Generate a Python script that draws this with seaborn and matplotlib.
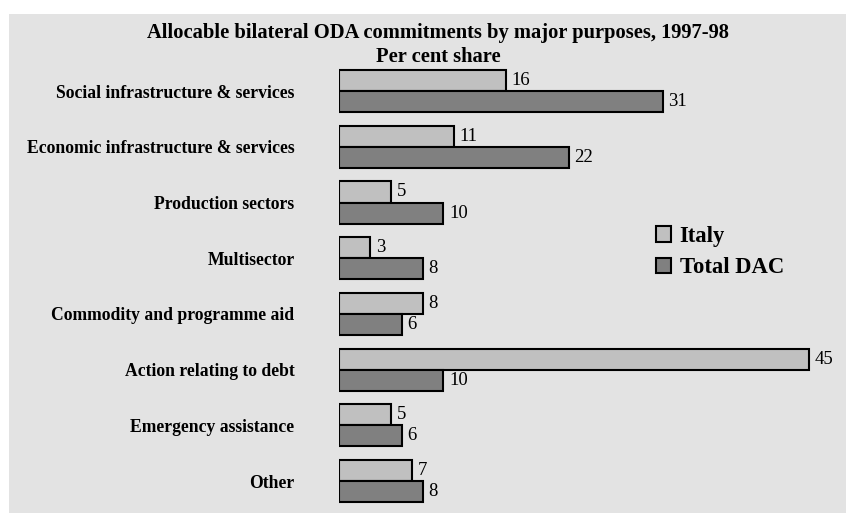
import matplotlib
matplotlib.use("Agg")
import matplotlib.pyplot as plt
import matplotlib.patches as mpatches
import seaborn as sns
import pandas as pd

categories = [
    "Social infrastructure & services",
    "Economic infrastructure & services",
    "Production sectors",
    "Multisector",
    "Commodity and programme aid",
    "Action relating to debt",
    "Emergency assistance",
    "Other",
]
italy = [16, 11, 5, 3, 8, 45, 5, 7]
total_dac = [31, 22, 10, 8, 6, 10, 6, 8]
series = ["Italy", "Total DAC"]
colors = ["#c0c0c0", "#808080"]

df = pd.DataFrame({
    "purpose": categories * 2,
    "share": italy + total_dac,
    "donor": [series[0]] * len(categories) + [series[1]] * len(categories),
})

sns.set_theme(style="white")
plt.rcParams["font.family"] = ["Liberation Serif", "DejaVu Serif"]
plt.rcParams["text.color"] = "black"
plt.rcParams["ytick.color"] = "black"

W, H = 846, 513
fig = plt.figure(figsize=(W / 100, H / 100), dpi=100)
fig.patch.set_facecolor("white")

# grey panel behind the chart
panel = mpatches.Rectangle((9 / W, 0), 1 - 9 / W, 1 - 14 / H,
                           transform=fig.transFigure, facecolor="#e3e3e3",
                           edgecolor="none", zorder=-5)
fig.patches.append(panel)

left_px, right_px = 339, 339 + 48 * 10.44
top_px, bot_px = 63.2, 509.0
ax = fig.add_axes([left_px / W, 1 - bot_px / H,
                   (right_px - left_px) / W, (bot_px - top_px) / H])
ax.set_facecolor("none")
ax.set_zorder(2)

sns.barplot(data=df, y="purpose", x="share", hue="donor", order=categories,
            hue_order=series, palette=colors, orient="h", width=0.755,
            edgecolor="black", linewidth=1.5, saturation=1, ax=ax,
            legend=False)

ax.set_xlim(0, 48)
ax.set_ylim(7.5, -0.5)
for c in ax.containers:
    ax.bar_label(c, padding=4, fontsize=13.5, color="black")

ax.set_xlabel("")
ax.set_ylabel("")
ax.set_xticks([])
ax.tick_params(axis="y", length=0, pad=32)
for lab in ax.get_yticklabels():
    lab.set_fontweight("bold")
    lab.set_fontsize(12.7)
    lab.set_color("black")
for s in ax.spines.values():
    s.set_visible(False)

fig.text(438 / W, 1 - 33 / H,
         "Allocable bilateral ODA commitments by major purposes, 1997-98",
         ha="center", va="center", fontsize=14.8, fontweight="bold",
         color="black")
fig.text(438 / W, 1 - 57 / H, "Per cent share",
         ha="center", va="center", fontsize=14.8, fontweight="bold",
         color="black")

handles = [mpatches.Patch(facecolor=col, edgecolor="black", linewidth=1.5,
                          label=lab) for col, lab in zip(colors, series)]
leg = fig.legend(handles=handles, loc="upper left",
                 bbox_to_anchor=(656 / W, 1 - 226 / H), frameon=False,
                 prop={"weight": "bold", "size": 16.3}, handlelength=0.65,
                 handleheight=0.65, handletextpad=0.4, labelspacing=0.45,
                 borderaxespad=0, borderpad=0)
for t in leg.get_texts():
    t.set_color("black")

fig.savefig("out.png", dpi=100)
